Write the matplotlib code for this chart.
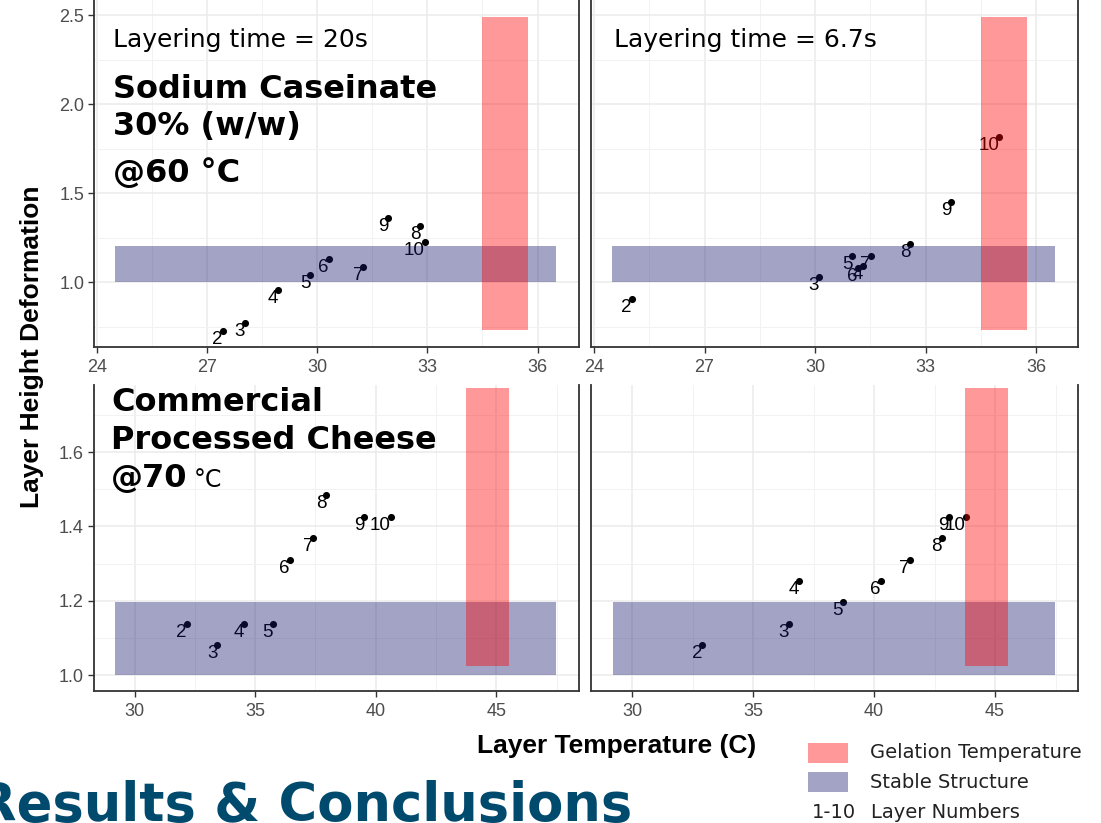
import matplotlib
matplotlib.use("Agg")
import matplotlib.pyplot as plt
from matplotlib.patches import Rectangle
from matplotlib.ticker import MultipleLocator

W, H = 1101, 823

# layer numbers 2-10, per panel
layers = [2, 3, 4, 5, 6, 7, 8, 9, 10]

# sodium caseinate, 20s
nc20_temp = [27.42, 28.02, 28.93, 29.81, 30.31, 31.25, 32.81, 31.93, 32.93]
nc20_def = [0.725, 0.77, 0.953, 1.041, 1.129, 1.086, 1.315, 1.358, 1.225]
# sodium caseinate, 6.7s
nc67_temp = [25.02, 30.10, 31.30, 31.01, 31.15, 31.51, 32.58, 33.69, 35.00]
nc67_def = [0.903, 1.026, 1.09, 1.146, 1.08, 1.146, 1.212, 1.448, 1.816]
# processed cheese, 20s
pc20_temp = [32.16, 33.44, 34.54, 35.74, 36.43, 37.41, 37.96, 39.53, 40.63]
pc20_def = [1.137, 1.081, 1.137, 1.137, 1.311, 1.368, 1.485, 1.425, 1.425]
# processed cheese, 6.7s
pc67_temp = [32.90, 36.47, 36.90, 38.72, 40.28, 41.48, 42.79, 43.09, 43.80]
pc67_def = [1.081, 1.137, 1.254, 1.197, 1.254, 1.311, 1.368, 1.425, 1.425]

# bands: (xmin, xmax, ymin, ymax)
nc_gel = (34.5, 35.75, 0.73, 2.487)
nc_stable = (24.5, 36.5, 1.0, 1.2)
pc_gel = (43.75, 45.52, 1.025, 1.773)
pc_stable = (29.2, 47.48, 1.0, 1.197)

RED = (1.0, 0.0, 0.0, 0.4)
BLUE = (25/255, 25/255, 112/255, 0.4)


def fx(px):
    return px / W


def fy(py):
    return 1 - py / H


def panel(rect_px, xlim, ylim, xmaj, ymaj, temp, dfm, gel, stable, yticks_on):
    x0, y0, x1, y1 = rect_px
    ax = fig.add_axes([fx(x0), fy(y1), (x1 - x0) / W, (y1 - y0) / H])
    ax.set_xlim(*xlim)
    ax.set_ylim(*ylim)
    ax.xaxis.set_major_locator(MultipleLocator(xmaj))
    ax.xaxis.set_minor_locator(MultipleLocator(xmaj / 2))
    ax.yaxis.set_major_locator(MultipleLocator(ymaj))
    ax.yaxis.set_minor_locator(MultipleLocator(ymaj / 2))
    ax.grid(which="major", color="#EBEBEB", lw=1.1, zorder=0)
    ax.grid(which="minor", color="#F2F2F2", lw=0.7, zorder=0)
    ax.set_axisbelow(True)
    for s in ["left", "bottom", "right"]:
        ax.spines[s].set_color("#333333")
        ax.spines[s].set_linewidth(1.3)
    ax.spines["top"].set_visible(False)
    ax.tick_params(which="minor", length=0)
    ax.tick_params(axis="x", which="major", length=4, width=1, color="#333333",
                   labelsize=13, labelcolor="#4D4D4D", pad=5)
    if yticks_on:
        ax.tick_params(axis="y", which="major", length=4, width=1, color="#333333",
                       labelsize=13, labelcolor="#4D4D4D", pad=3)
    else:
        ax.tick_params(axis="y", which="major", length=0, labelleft=False)
    for lab in ax.get_xticklabels() + ax.get_yticklabels():
        lab.set_fontfamily("Liberation Sans")

    ax.scatter(temp, dfm, s=26, color="black", zorder=3, linewidths=0)
    for t, d, n in zip(temp, dfm, layers):
        ax.text(t, d, str(n), ha="right", va="top", fontsize=13.5,
                family="Liberation Sans", color="black", zorder=3)

    ax.add_patch(Rectangle((stable[0], stable[2]), stable[1] - stable[0],
                           stable[3] - stable[2], facecolor=BLUE, lw=0, zorder=4))
    ax.add_patch(Rectangle((gel[0], gel[2]), gel[1] - gel[0],
                           gel[3] - gel[2], facecolor=RED, lw=0, zorder=5))
    return ax


fig = plt.figure(figsize=(W / 100, H / 100), dpi=100)
fig.patch.set_facecolor("white")

top_xlim = (23.92, 37.13)
top_ylim = (0.635, 2.585)
bot_xlim = (28.3, 48.43)
bot_ylim = (0.957, 1.781)

panel((94, 0, 579, 347), top_xlim, top_ylim, 3, 0.5, nc20_temp, nc20_def, nc_gel, nc_stable, True)
panel((591, 0, 1078, 347), top_xlim, top_ylim, 3, 0.5, nc67_temp, nc67_def, nc_gel, nc_stable, False)
panel((93.5, 385, 579, 691), bot_xlim, bot_ylim, 5, 0.2, pc20_temp, pc20_def, pc_gel, pc_stable, True)
panel((591, 385, 1078, 691), bot_xlim, bot_ylim, 5, 0.2, pc67_temp, pc67_def, pc_gel, pc_stable, False)

# axis titles
fig.text(fx(32), fy(347), "Layer Height Deformation", rotation=90, ha="center", va="center",
         fontsize=19, fontweight="bold", family="Liberation Sans")
fig.text(fx(617), fy(746), "Layer Temperature (C)", ha="center", va="center",
         fontsize=19, fontweight="bold", family="Liberation Sans")

# panel annotations
fig.text(fx(113), fy(47), "Layering time = 20s", fontsize=18, family="DejaVu Sans", va="baseline")
fig.text(fx(614), fy(47), "Layering time = 6.7s", fontsize=18, family="DejaVu Sans", va="baseline")
fig.text(fx(113), fy(98), "Sodium Caseinate", fontsize=23, fontweight="bold", va="baseline")
fig.text(fx(113), fy(135), "30% (w/w)", fontsize=23, fontweight="bold", va="baseline")
fig.text(fx(113), fy(182), "@60 °C", fontsize=23, fontweight="bold", va="baseline")
fig.text(fx(111), fy(411), "Commercial", fontsize=23, fontweight="bold", va="baseline")
fig.text(fx(111), fy(449), "Processed Cheese", fontsize=23, fontweight="bold", va="baseline")
fig.text(fx(111), fy(487), "@70", fontsize=23, fontweight="bold", va="baseline")
fig.text(fx(194), fy(487), "°C", fontsize=17, va="baseline")

# legend
fig.add_artist(Rectangle((fx(808), fy(763)), 40 / W, 20 / H, transform=fig.transFigure,
                         facecolor=RED, lw=0))
fig.add_artist(Rectangle((fx(808), fy(792)), 40 / W, 20 / H, transform=fig.transFigure,
                         facecolor=BLUE, lw=0))
fig.text(fx(870), fy(753), "Gelation Temperature", fontsize=14, va="center", color="#222222")
fig.text(fx(870), fy(782), "Stable Structure", fontsize=14, va="center", color="#222222")
fig.text(fx(812), fy(812), "1-10", fontsize=14, va="center", color="#222222")
fig.text(fx(871), fy(812), "Layer Numbers", fontsize=14, va="center", color="#222222")

# slide heading
fig.text(fx(632), fy(821), "Results & Conclusions", fontsize=38, fontweight="bold",
         color="#004A6E", ha="right", va="baseline")

fig.savefig("out.png", dpi=100)
